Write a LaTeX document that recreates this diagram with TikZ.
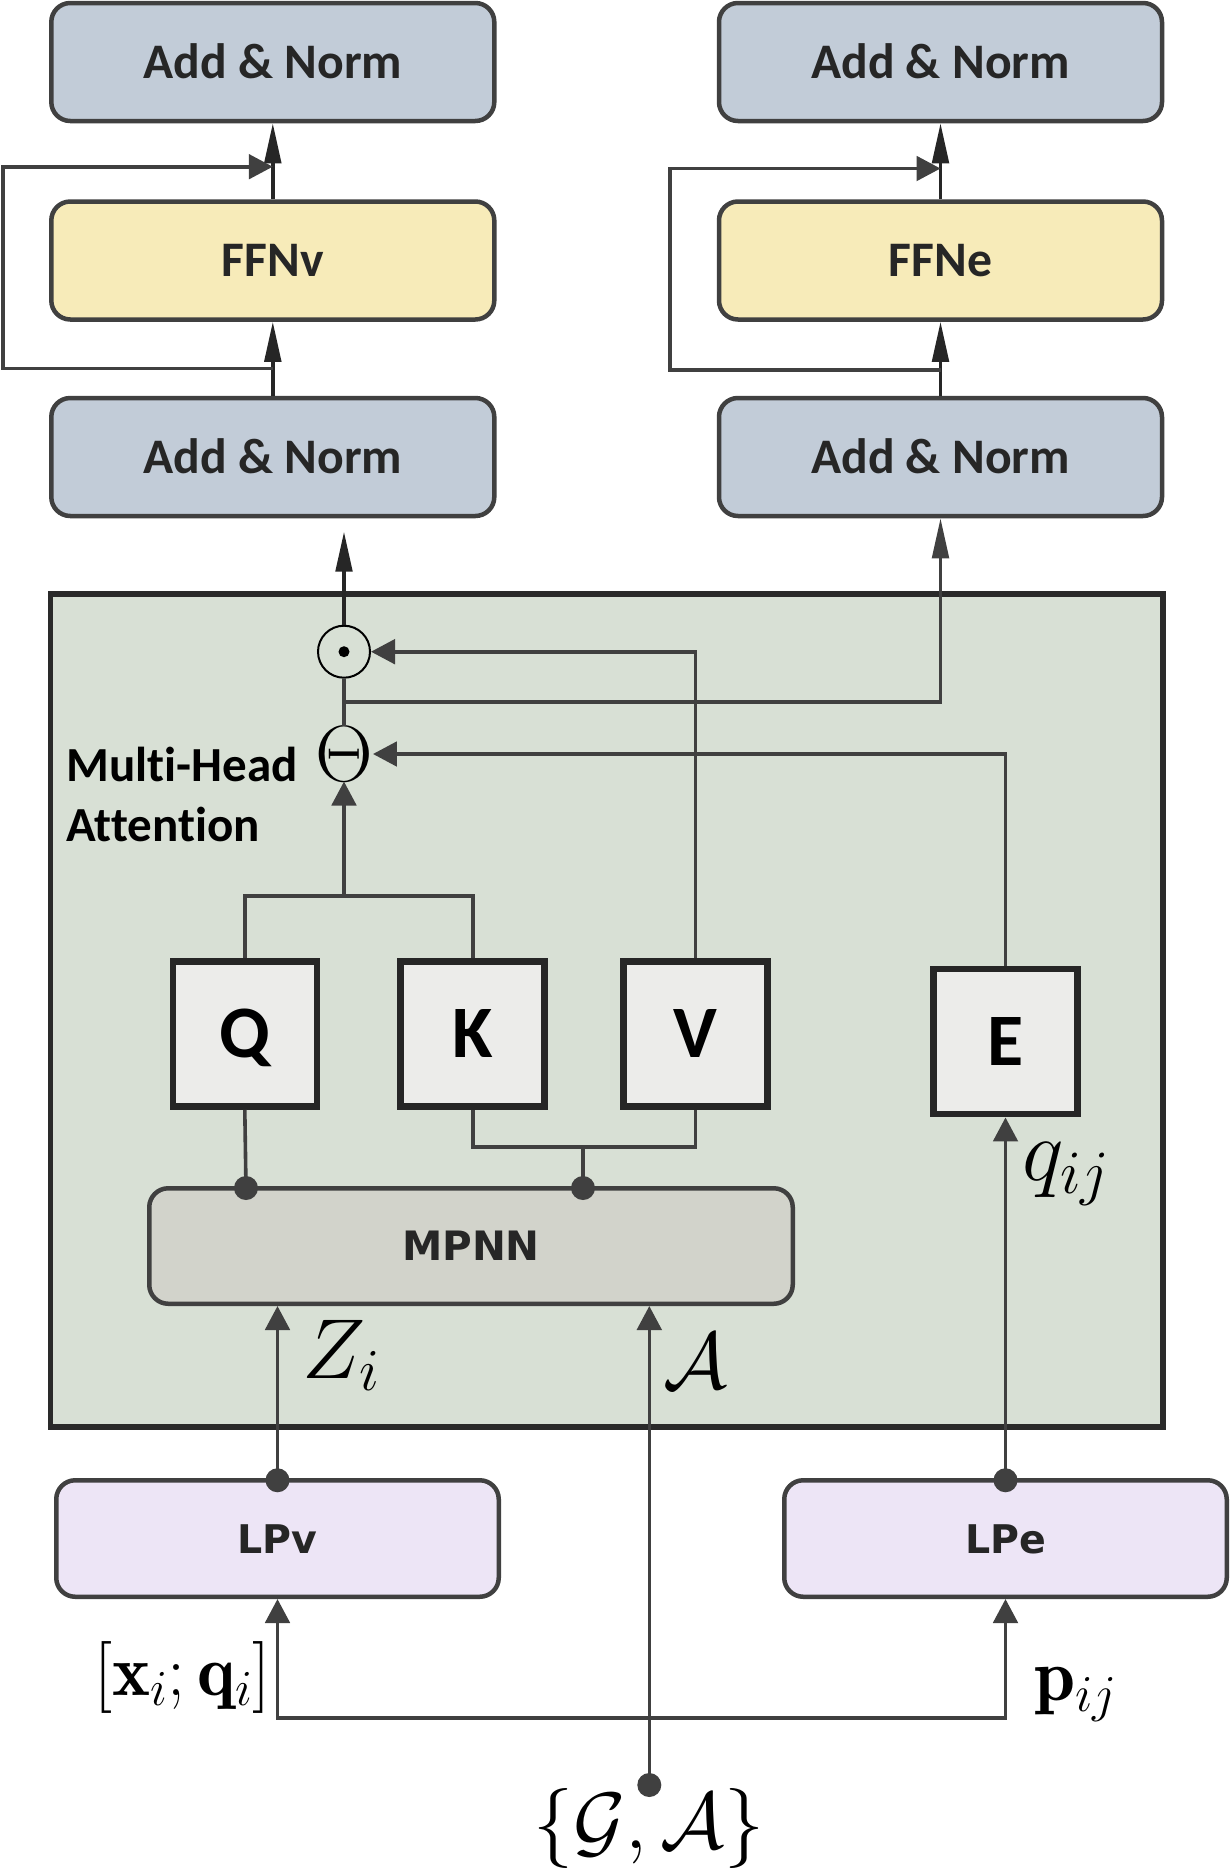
\RequirePackage{fix-cm}
\documentclass[tikz,border=0pt]{standalone}
\usepackage{fontspec}
\newfontfamily\carlito[Ligatures=NoCommon]{Carlito}
\newfontfamily\dejavu{DejaVu Sans}
\usetikzlibrary{arrows.meta}
\definecolor{anfill}{RGB}{194,204,216}
\definecolor{fffill}{RGB}{247,235,185}
\definecolor{grnfill}{RGB}{216,224,213}
\definecolor{sqfill}{RGB}{236,236,234}
\definecolor{mpfill}{RGB}{210,211,203}
\definecolor{lpfill}{RGB}{237,229,246}
\definecolor{linec}{RGB}{64,64,64}
\definecolor{dkc}{RGB}{38,38,38}
\definecolor{grnline}{RGB}{42,42,42}
\definecolor{sqline}{RGB}{38,38,38}
\definecolor{txtc}{RGB}{38,38,38}
\newcommand\setfs[1]{\fontsize{#1}{#1}\selectfont}
\begin{document}
\begin{tikzpicture}[x=1pt,y=-1pt,
  rbox/.style={draw=linec, line width=4.5pt, rounded corners=19pt, minimum width=443pt, minimum height=118pt, inner sep=0pt, text=txtc, text height=32pt, text depth=0pt, font=\carlito\bfseries\setfs{49.7}},
  anbox/.style={rbox, fill=anfill},
  ffbox/.style={rbox, fill=fffill},
  lpbox/.style={rbox, fill=lpfill, minimum width=442.5pt, minimum height=116.5pt, text height=29pt, font=\dejavu\bfseries\setfs{39.5}},
  mpbox/.style={rbox, fill=mpfill, minimum width=643.5pt, minimum height=115.5pt, text height=29.5pt, font=\dejavu\bfseries\setfs{40.5}},
  sqbox/.style={draw=sqline, fill=sqfill, line width=6.5pt, minimum width=144pt, minimum height=145pt, inner sep=0pt, text=black, text height=47.7pt, text depth=0pt, font=\carlito\bfseries\setfs{74}},
  mhabox/.style={draw=grnline, fill=grnfill, line width=5.5pt, minimum width=1112.5pt, minimum height=833pt, inner sep=0pt},
  conn/.style={draw=linec, line width=3.6pt},
  dconn/.style={draw=dkc, line width=3.6pt},
  sarr/.style={-{Triangle[length=24pt,width=24.5pt]}},
  barr/.style={-{Triangle[length=40pt,width=16.5pt]}},
  dotn/.style={circle, fill=linec, minimum size=24pt, inner sep=0pt},
  mlab/.style={inner sep=0pt, anchor=base west},
]
\useasboundingbox (0,0) rectangle (1230,1869);
\fill[white] (0,0) rectangle (1230,1869);

% output stacks
\node[anbox] (AN1L) at (272.8,62) {Add \& Norm};
\node[ffbox] (FFNL) at (272.8,260.5) {FFNv};
\node[anbox] (AN2L) at (272.8,457) {Add \& Norm};
\node[anbox] (AN1R) at (940.5,62) {Add \& Norm};
\node[ffbox] (FFNR) at (940.5,260.5) {FFNe};
\node[anbox] (AN2R) at (940.5,457) {Add \& Norm};

\draw[dconn,barr] (AN2L.north) -- (FFNL.south);
\draw[dconn,barr] (FFNL.north) -- (AN1L.south);
\coordinate (sLb) at (272.8,368.3);
\coordinate (sLl) at (2.7,368.3);
\coordinate (sLt) at (272.8,166.7);
\draw[conn,sarr] (sLb) -- (sLl) |- (sLt);

\draw[dconn,barr] (AN2R.north) -- (FFNR.south);
\draw[dconn,barr] (FFNR.north) -- (AN1R.south);
\coordinate (sRb) at (940.5,370);
\coordinate (sRl) at (669.8,370);
\coordinate (sRt) at (940.5,168.5);
\draw[conn,sarr] (sRb) -- (sRl) |- (sRt);

% multi-head attention block
\node[mhabox] (MHA) at (606.75,1010.5) {};
\node[inner sep=0pt, anchor=base west, font=\carlito\bfseries\setfs{49}] (mh1) at (66,781.7) {Mult\kern0pt i-Head};
\node[inner sep=0pt, anchor=base west, font=\carlito\bfseries\setfs{49}] (mh2) at (66,841.7) {At\kern0pt tent\kern0pt ion};

\node[circle, draw=black, line width=2pt, minimum size=52pt, inner sep=0pt] (odot) at (344,651.7) {};
\fill[black] (odot.center) circle (5.5pt);
\node[inner sep=0pt, font=\setfs{80}] (Theta) at (344,754) {$\Theta$};

\node[sqbox] (Q) at (244.8,1034) {Q};
\node[sqbox] (K) at (472.7,1034) {K};
\node[sqbox] (V) at (695.6,1034) {V};
\node[sqbox] (E) at (1005.5,1041.7) {E};

\node[mpbox] (MPNN) at (471,1246) {MPNN};

\coordinate (outL) at (344,531.7);
\draw[dconn,barr] (odot.north) -- (outL);
\draw[conn] (odot.south) -- (Theta.north);
\coordinate (brj) at (344,701.7);
\draw[conn,barr] (brj) -| (AN2R.south);

\draw[conn,sarr] (V.north) |- (odot.east);
\draw[conn,sarr] (E.north) |- (Theta.east);
\coordinate (qkj) at (344,896);
\draw[conn] (Q.north) |- (qkj) -| (K.north);
\draw[conn,sarr] (qkj) -- (Theta.south);

\coordinate (kvj) at (583,1146.7);
\draw[conn] (K.south) |- (kvj) -| (V.south);
\node[dotn] (dq) at (246,1188) {};
\node[dotn] (dkv) at (583,1188) {};
\draw[conn] (Q.south) -- (dq.center);
\draw[conn] (kvj) -- (dkv.center);

% input layers
\node[lpbox] (LPv) at (277.5,1538.5) {LPv};
\node[lpbox] (LPe) at (1005.5,1538.5) {LPe};
\node[dotn] (dlv) at (277.5,1480.25) {};
\node[dotn] (dle) at (1005.5,1480.25) {};
\node[dotn] (dga) at (649.3,1785) {};

\draw[conn,sarr] (dlv.center) -- (dlv.center |- MPNN.south);
\draw[conn,sarr] (dle.center) -- (E.south);
\draw[conn,sarr] (dga.center) -- (dga.center |- MPNN.south);
\coordinate (bR) at (1005.5,1718);
\draw[conn,{Triangle[length=24pt,width=24.5pt]}-{Triangle[length=24pt,width=24.5pt]}] (LPv.south) |- (bR) -- (LPe.south);

% math labels
\node[mlab, font=\setfs{85}] (lz) at (302,1378) {$Z_i$};
\node[mlab, font=\setfs{80}] (la) at (663,1388) {$\mathcal{A}$};
\node[mlab, font=\setfs{88}] (lq) at (1022,1180) {$q_{ij}$};
\node[mlab, font=\setfs{74}] (lp) at (1034,1700) {$\mathbf{p}_{ij}$};
\node[inner sep=0pt, anchor=base east, font=\setfs{72}] (lx) at (271,1695) {$[\mathbf{x}_i;\mathbf{q}_i]$};
\node[inner sep=0pt, anchor=base, font=\setfs{80}] (lg) at (649,1848) {$\{\mathcal{G},\mathcal{A}\}$};
\end{tikzpicture}
\end{document}
